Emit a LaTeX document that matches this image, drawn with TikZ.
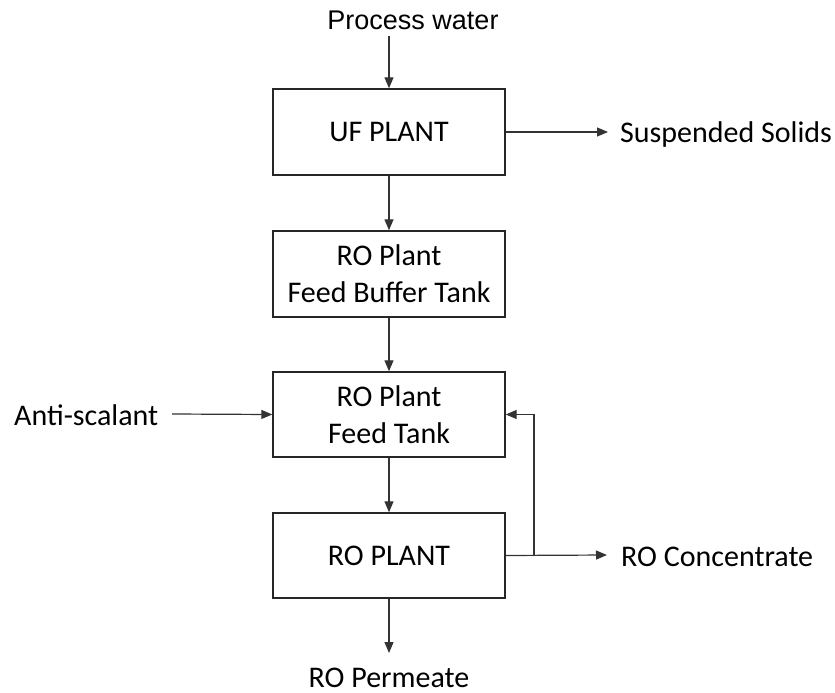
\documentclass[tikz,border=0pt]{standalone}
\usepackage{fontspec}
\setmainfont{Carlito}
\newfontfamily\arialfont{Liberation Sans}
\usetikzlibrary{arrows.meta}
\begin{document}
\begin{tikzpicture}[x=1pt,y=-1pt,
  box/.style={draw=black!85, line width=1.4pt, minimum width=232pt, minimum height=86pt, align=center, inner sep=0pt, font=\fontsize{30}{37}\selectfont},
  lbl/.style={font=\fontsize{30}{37}\selectfont, inner sep=0pt},
  flow/.style={draw=black!80, line width=1.2pt, -{Triangle[length=11pt,width=9pt]}}]
\useasboundingbox (0,0) rectangle (835,693);
\node[box] (uf) at (389,132) {UF PLANT};
\node[box] (buf) at (389,274) {RO Plant\\Feed Buffer Tank};
\node[box, minimum height=85pt] (feed) at (389,414.5) {RO Plant\\Feed Tank};
\node[box, minimum height=85pt] (ro) at (389,555.5) {RO PLANT};
\node[inner sep=0pt, font=\arialfont\fontsize{27}{30}\selectfont, anchor=base] (pw) at (413,30) {Process water};
\node[lbl, anchor=base west] (ss) at (620,142) {Suspended Solids};
\node[lbl, anchor=base west] (as) at (14,425) {Anti-scalant};
\node[lbl, anchor=base west] (rc) at (621,566) {RO Concentrate};
\node[lbl, anchor=base] (rp) at (389,687) {RO Permeate};
\coordinate (pwend) at (389,36);
\coordinate (ssend) at (608,132);
\coordinate (asend) at (172,414);
\coordinate (rcend) at (607,555);
\coordinate (rpend) at (389,653);
\coordinate (split) at (534,555);
\draw[flow] (pwend) -- (uf.north);
\draw[flow] (uf.east) -- (ssend);
\draw[flow] (uf.south) -- (buf.north);
\draw[flow] (buf.south) -- (feed.north);
\draw[flow] (asend) -- (feed.west);
\draw[flow] (feed.south) -- (ro.north);
\draw[flow] (ro.east) -- (rcend);
\draw[flow] (split) |- (feed.east);
\draw[flow] (ro.south) -- (rpend);
\end{tikzpicture}
\end{document}
